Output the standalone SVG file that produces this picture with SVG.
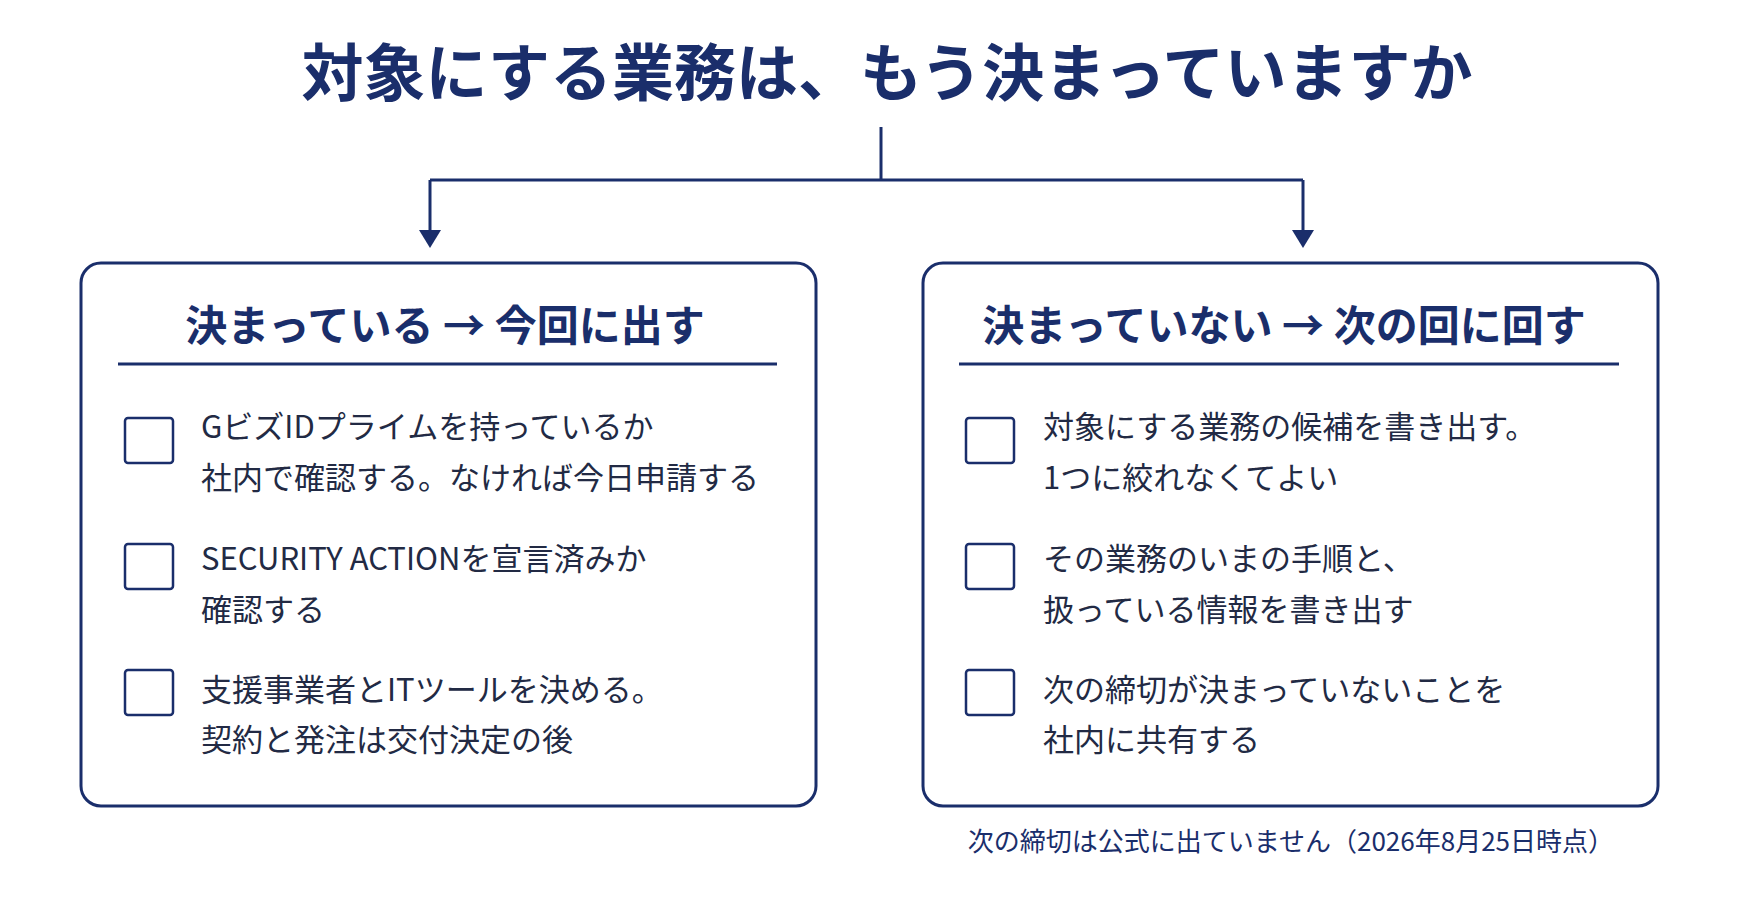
<svg xmlns="http://www.w3.org/2000/svg" width="1745" height="901" viewBox="0 0 1745 901">
<style>
text{font-family:"Noto Sans CJK JP","Noto Sans",sans-serif;fill:#1a2e6b}
.t{font-size:31px;font-weight:400;fill:#222a44}
.h{font-size:42px;font-weight:700;text-anchor:middle}
.box{fill:#fff;stroke:#1a2e6b;stroke-width:3}
.cb{fill:#fff;stroke:#1a2e6b;stroke-width:2.5}
.ln{stroke:#1a2e6b;stroke-width:3;fill:none}
</style>
<rect width="1745" height="901" fill="#fff"/>
<g id="title"><text x="887" y="96" font-size="62" font-weight="700" text-anchor="middle">対象にする業務は、もう決まっていますか</text></g>
<g id="connectors">
<path class="ln" d="M881,127V180"/>
<path class="ln" d="M430,180H1303"/>
<path d="M430,180V230" class="ln"/><path d="M419,230L430,248L441,230z" fill="#1a2e6b"/>
<path d="M1303,180V230" class="ln"/><path d="M1292,230L1303,248L1314,230z" fill="#1a2e6b"/>
</g>
<g id="left">
<rect class="box" x="81" y="263" width="735" height="543" rx="20"/>
<text class="h" x="445" y="341">決まっている → 今回に出す</text>
<path class="ln" d="M118,364H777"/>
<rect class="cb" x="125" y="418" width="48" height="45" rx="3"/>
<text class="t" x="201" y="438">GビズIDプライムを持っているか</text>
<text class="t" x="201" y="489">社内で確認する。なければ今日申請する</text>
<rect class="cb" x="125" y="544" width="48" height="45" rx="3"/>
<text class="t" x="201" y="570">SECURITY ACTIONを宣言済みか</text>
<text class="t" x="201" y="621">確認する</text>
<rect class="cb" x="125" y="670" width="48" height="45" rx="3"/>
<text class="t" x="201" y="701">支援事業者とITツールを決める。</text>
<text class="t" x="201" y="751">契約と発注は交付決定の後</text>
</g>
<g id="right">
<rect class="box" x="923" y="263" width="735" height="543" rx="20"/>
<text class="h" x="1284" y="341">決まっていない → 次の回に回す</text>
<path class="ln" d="M959,364H1619"/>
<rect class="cb" x="966" y="418" width="48" height="45" rx="3"/>
<text class="t" x="1043" y="438">対象にする業務の候補を書き出す。</text>
<text class="t" x="1043" y="489">1つに絞れなくてよい</text>
<rect class="cb" x="966" y="544" width="48" height="45" rx="3"/>
<text class="t" x="1043" y="570">その業務のいまの手順と、</text>
<text class="t" x="1043" y="621">扱っている情報を書き出す</text>
<rect class="cb" x="966" y="670" width="48" height="45" rx="3"/>
<text class="t" x="1043" y="701">次の締切が決まっていないことを</text>
<text class="t" x="1043" y="751">社内に共有する</text>
</g>
<g id="note"><text x="1614" y="851" font-size="26" text-anchor="end">次の締切は公式に出ていません（2026年8月25日時点）</text></g>
</svg>
